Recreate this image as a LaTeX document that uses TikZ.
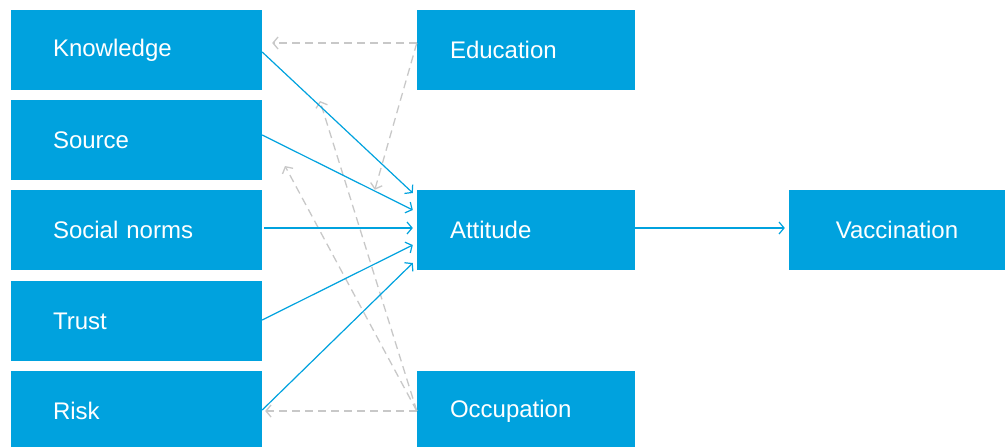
\documentclass[tikz,border=0pt]{standalone}
\usepackage{fontspec}
\setmainfont{Liberation Sans}
\usetikzlibrary{arrows.meta}
\definecolor{boxblue}{RGB}{0,162,222}
\definecolor{dashgray}{RGB}{200,200,200}
\tikzset{
  box/.style={fill=boxblue, text=white, minimum height=80pt, inner ysep=0pt,
    font=\fontsize{24}{27}\selectfont},
  leftbox/.style={box, inner xsep=42pt, text width=167pt, align=left},
  midbox/.style={box, inner xsep=33pt, text width=152pt, align=left},
  endbox/.style={box, inner xsep=0pt, text width=216pt, align=center},
  effect/.style={draw=boxblue, line width=1.2pt, -{Straight Barb[length=5pt,width=12pt]}},
  control/.style={draw=dashgray, line width=1.3pt, dash pattern=on 8pt off 5pt,
    -{Straight Barb[length=5pt,width=12pt]}}
}
\begin{document}
\begin{tikzpicture}[x=1pt,y=-1pt]
  \useasboundingbox (0,0) rectangle (1005,447);
  \begin{scope}
    \clip (0,0) rectangle (1005,447);
    % Predictors
    \node[leftbox] (knowledge) at (136.5,50) {Knowledge};
    \node[leftbox] (source) at (136.5,140) {Source};
    \node[leftbox] (norms) at (136.5,230) {Social norms};
    \node[leftbox] (trust) at (136.5,321) {Trust};
    \node[leftbox] (risk) at (136.5,411) {Risk};
    % Middle column
    \node[midbox] (education) at (526,50) {Education};
    \node[midbox] (attitude) at (526,230) {Attitude};
    \node[midbox] (occupation) at (526,411) {Occupation};
    % Outcome
    \node[endbox] (vaccination) at (897,230) {Vaccination};
  \end{scope}

  % Control variables
  \coordinate (eduout) at ([yshift=7pt]education.west);
  \coordinate (occout) at (occupation.west);
  \draw[control] (eduout) -- ([xshift=10pt,yshift=7pt]knowledge.east);
  \draw[control] (eduout) -- ([xshift=-42pt]attitude.north west);
  \draw[control] (occout) -- ([xshift=3pt]risk.east);
  \draw[control] (occout) -- (320,101);
  \draw[control] (occout) -- (285,166);

  % Paths to attitude
  \draw[effect] ([yshift=-2pt]knowledge.east) -- ([xshift=-4pt,yshift=37pt]attitude.west);
  \draw[effect] ([yshift=5pt]source.east) -- ([xshift=-4pt,yshift=20pt]attitude.west);
  \draw[effect] ([xshift=2pt,yshift=2pt]norms.east) -- ([xshift=-4pt,yshift=2pt]attitude.west);
  \draw[effect] ([yshift=1pt]trust.east) -- ([xshift=-4pt,yshift=-15pt]attitude.west);
  \draw[effect] ([yshift=1pt]risk.east) -- ([xshift=-4pt,yshift=-33pt]attitude.west);
  \draw[effect] ([yshift=2pt]attitude.east) -- ([xshift=-4pt,yshift=2pt]vaccination.west);
\end{tikzpicture}
\end{document}
